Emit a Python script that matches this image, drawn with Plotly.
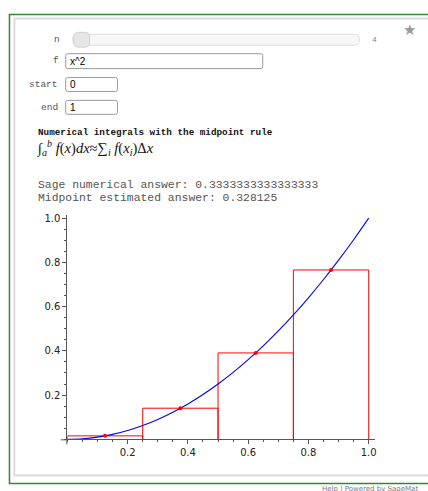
import plotly.graph_objects as go

W, H = 428, 491

# midpoint rule, n = 4 on [0, 1] for f(x) = x^2
rect_left = [0.0, 0.25, 0.5, 0.75]
rect_width = 0.25
rect_mid = [0.125, 0.375, 0.625, 0.875]
rect_height = [0.015625, 0.140625, 0.390625, 0.765625]

curve_x = [0.0, 0.05, 0.1, 0.15, 0.2, 0.25, 0.3, 0.35, 0.4, 0.45, 0.5,
           0.55, 0.6, 0.65, 0.7, 0.75, 0.8, 0.85, 0.9, 0.95, 1.0]
curve_y = [0.0, 0.0025, 0.01, 0.0225, 0.04, 0.0625, 0.09, 0.1225, 0.16, 0.2025, 0.25,
           0.3025, 0.36, 0.4225, 0.49, 0.5625, 0.64, 0.7225, 0.81, 0.9025, 1.0]

x_ticks = [0.2, 0.4, 0.6, 0.8, 1.0]
y_ticks = [0.2, 0.4, 0.6, 0.8, 1.0]

sage_answer = "0.3333333333333333"
midpoint_answer = "0.328125"

MONO = "Liberation Mono, Courier New, monospace"


def px(x):
    return x / W


def py(y):
    return 1 - y / H


def rrect(x0, y0, x1, y1, r, fill, line, width=1):
    # rounded rectangle in pixel coords -> paper path
    def p(x, y):
        return f"{px(x):.5f},{py(y):.5f}"
    path = (
        f"M {p(x0 + r, y0)} L {p(x1 - r, y0)} Q {p(x1, y0)} {p(x1, y0 + r)} "
        f"L {p(x1, y1 - r)} Q {p(x1, y1)} {p(x1 - r, y1)} "
        f"L {p(x0 + r, y1)} Q {p(x0, y1)} {p(x0, y1 - r)} "
        f"L {p(x0, y0 + r)} Q {p(x0, y0)} {p(x0 + r, y0)} Z"
    )
    return dict(type="path", xref="paper", yref="paper", path=path,
                fillcolor=fill, line=dict(color=line, width=width), layer="below")


def label(x, y, text, size=9.5, color="#555", family=MONO, xanchor="left"):
    return dict(x=px(x), y=py(y), xref="paper", yref="paper", text=text,
                showarrow=False, xanchor=xanchor, yanchor="middle",
                font=dict(family=family, size=size, color=color))


# rectangle outlines (sides + top), the bottom sits on the x axis
rx, ry = [], []
for left, h in zip(rect_left, rect_height):
    rx += [left, left, left + rect_width, left + rect_width, None]
    ry += [0, h, h, 0, None]

fig = go.Figure()
fig.add_trace(go.Scatter(x=rx, y=ry, mode="lines", line=dict(color="#ff0000", width=1),
                         cliponaxis=False, hoverinfo="skip"))
fig.add_trace(go.Scatter(
    x=curve_x, y=curve_y, mode="lines", line=dict(color="#0000ff", width=1.1, shape="spline"),
))
fig.add_trace(go.Scatter(
    x=rect_mid, y=rect_height, mode="markers", marker=dict(color="#ff0000", size=4),
))

axis_common = dict(
    showgrid=False, zeroline=False, showline=True, linecolor="#555", linewidth=1,
    ticks="outside", ticklen=4, tickcolor="#555", tickwidth=1,
    tickformat=".1f", tickfont=dict(family="DejaVu Sans", size=10, color="#222"),
    minor=dict(ticks="outside", ticklen=2, dtick=0.05, tick0=0, tickcolor="#555", showgrid=False),
    fixedrange=True,
)

shapes = [
    # notebook cell borders
    dict(type="rect", xref="paper", yref="paper", x0=px(9.5), y0=py(11.5), x1=px(440), y1=py(483.5),
         line=dict(color="#2e8b2e", width=1.5), layer="below"),
    dict(type="rect", xref="paper", yref="paper", x0=px(14.5), y0=py(15.5), x1=px(440), y1=py(475.5),
         line=dict(color="#dcdcdc", width=2), layer="below"),
    # slider
    rrect(73, 31.5, 361, 42.5, 5, "#f7f7f7", "#dddddd"),
    rrect(74, 29.5, 90, 44.5, 5, "#e6e6e6", "#d3d3d3"),
    # input boxes
    rrect(66, 51, 264, 66, 2, "#ffffff", "#9a9a9a"),
    rrect(66, 75, 118, 89, 2, "#ffffff", "#9a9a9a"),
    rrect(66, 98, 118, 112, 2, "#ffffff", "#9a9a9a"),
    # axis line overhang like Sage draws it
    dict(type="line", xref="paper", yref="paper", x0=px(61), x1=px(67.7), y0=py(439.5), y1=py(439.5),
         line=dict(color="#555", width=1)),
    dict(type="line", xref="paper", yref="paper", x0=px(67.2), x1=px(67.2), y0=py(439), y1=py(444),
         line=dict(color="#555", width=1)),
]

formula = ("∫<sub><i>a</i></sub><sup><i>b</i></sup> <i>f</i>(<i>x</i>)<i>dx</i>≈"
           "∑<sub><i>i</i></sub> <i>f</i>(<i>x<sub>i</sub></i>)Δ<i>x</i>")

annotations = [
    label(411, 27, "★", size=15, color="#999", family="DejaVu Sans", xanchor="center"),
    label(57, 37, "n", xanchor="center"),
    label(376, 37, "4", size=8, color="#888", xanchor="center"),
    label(56, 58, "f", xanchor="center"),
    label(60, 82, "start", xanchor="right"),
    label(60, 105, "end", xanchor="right"),
    label(68, 58.5, "x^2", size=10, color="#000", family="Liberation Sans, Arial"),
    label(68, 82.5, "0", size=10, color="#000", family="Liberation Sans, Arial"),
    label(68, 105.5, "1", size=10, color="#000", family="Liberation Sans, Arial"),
    label(36, 130, "<b>Numerical integrals with the midpoint rule</b>", size=9.3, color="#111"),
    label(35, 146, formula, size=14.5, color="#111", family="Liberation Serif, DejaVu Serif, serif"),
    label(36, 183.5, f"Sage numerical answer: {sage_answer}", size=11.4, color="#555"),
    label(36, 196.5, f"Midpoint estimated answer: {midpoint_answer}", size=11.4, color="#555"),
    label(321, 489, "Help | Powered by SageMat", size=7, color="#777", family="DejaVu Sans"),
]

fig.update_layout(
    width=W, height=H,
    margin=dict(l=0, r=0, t=0, b=0),
    paper_bgcolor="white", plot_bgcolor="white",
    showlegend=False,
    xaxis=dict(axis_common, range=[0, 1.02], domain=[px(67.7), px(376.5)],
               tickmode="array", tickvals=x_ticks),
    yaxis=dict(axis_common, range=[0, 1.012], domain=[py(439), py(213.8)],
               tickmode="array", tickvals=y_ticks),
    shapes=shapes,
    annotations=annotations,
)

fig.write_html("out.html", config={"displayModeBar": False},
               post_script="document.body.style.margin='0';")
